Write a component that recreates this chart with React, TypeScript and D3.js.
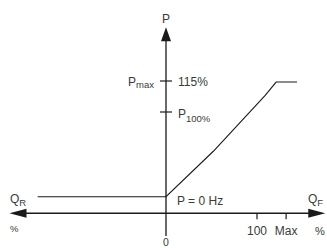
import * as d3 from 'd3'

const WIDTH = 327
const HEIGHT = 248

// characteristic curve: flow Q in %, pressure P in %
const curveQ = [-141, 0, 52, 109, 121, 144]
const curveP = [59, 59, 81, 108, 114.5, 114.5]

// axis extents (schematic, in the same % units)
const qAxisMin = -172
const qAxisMax = 175
const pAxisLevel = 51
const pAxisMin = 40
const pAxisMax = 140

const xTickValues = [100, 132]
const xTickLabels = ['100', 'Max']

const yTickValues = [115, 100]
const yTickMain = ['P', 'P']
const yTickSub = ['max', '100%']
const yTickRight = ['115%', '']

const LINE = '#1a1a1a'
const TEXT = '#3a3a3a'
const FONT = '"Liberation Sans", Arial, Helvetica, sans-serif'

export default function App() {
  const x = d3.scaleLinear().domain([0, 100]).range([166, 257])
  const y = d3.scaleLinear().domain([100, 115]).range([112, 81])

  const x0 = x(0)
  const yAxis = y(pAxisLevel)
  const xLeft = x(qAxisMin)
  const xRight = x(qAxisMax)
  const yTop = y(pAxisMax)

  const line = d3
    .line<number>()
    .x((_, i) => x(curveQ[i]))
    .y((_, i) => y(curveP[i]))

  const baseline = y(curveP[0])

  return (
    <>
      <style>{'body{margin:0}'}</style>
      <svg width={WIDTH} height={HEIGHT} style={{ display: 'block', background: '#fff' }} fontFamily={FONT}>
        {/* horizontal axis with arrows on both ends */}
        <line x1={xLeft + 10} x2={xRight - 10} y1={yAxis} y2={yAxis} stroke={LINE} strokeWidth={1.3} />
        <path d={`M${xLeft},${yAxis} L${xLeft + 17},${yAxis - 4.5} L${xLeft + 17},${yAxis + 4.5} Z`} fill={LINE} />
        <path d={`M${xRight},${yAxis} L${xRight - 17},${yAxis - 4.5} L${xRight - 17},${yAxis + 4.5} Z`} fill={LINE} />

        {/* vertical axis with arrow at top */}
        <line x1={x0} x2={x0} y1={yTop + 8} y2={y(pAxisMin)} stroke={LINE} strokeWidth={1.3} />
        <path d={`M${x0},${yTop - 2} L${x0 - 5},${yTop + 12} L${x0 + 5},${yTop + 12} Z`} fill={LINE} />

        {/* x ticks */}
        {xTickValues.map((v, i) => (
          <g key={v}>
            <line x1={x(v)} x2={x(v)} y1={yAxis} y2={yAxis + 6} stroke={LINE} strokeWidth={1.2} />
            <text x={x(v)} y={yAxis + 22} textAnchor="middle" fontSize={12} fill={TEXT}>
              {xTickLabels[i]}
            </text>
          </g>
        ))}

        {/* y ticks */}
        {yTickValues.map((v, i) => (
          <g key={v}>
            <line x1={x0 - 6} x2={x0 + 6} y1={y(v)} y2={y(v)} stroke={LINE} strokeWidth={1.2} />
            {i === 0 ? (
              <>
                <text x={x0 - 12} y={y(v) + 5} textAnchor="end" fontSize={12} fill={TEXT}>
                  P<tspan fontSize={9.5} dy={2}>{yTickSub[i]}</tspan>
                </text>
                <text x={x0 + 12} y={y(v) + 4.5} fontSize={12} fill={TEXT}>
                  {yTickRight[i]}
                </text>
              </>
            ) : (
              <text x={x0 + 12} y={y(v) + 6} fontSize={12} fill={TEXT}>
                {yTickMain[i]}
                <tspan fontSize={9.5} dy={4}>{yTickSub[i]}</tspan>
              </text>
            )}
          </g>
        ))}

        {/* curve */}
        <path d={line(curveQ) ?? ''} fill="none" stroke={LINE} strokeWidth={1.1} />

        {/* labels */}
        <text x={x0} y={23} textAnchor="middle" fontSize={12} fill={TEXT}>P</text>
        <text x={x0 + 11} y={baseline + 8} fontSize={12} fill={TEXT}>P = 0 Hz</text>
        <text x={10} y={baseline + 6} fontSize={12} fill={TEXT}>
          Q<tspan fontSize={9.5} dy={3}>R</tspan>
        </text>
        <text x={308} y={baseline + 6} fontSize={12} fill={TEXT}>
          Q<tspan fontSize={9.5} dy={3}>F</tspan>
        </text>
        <text x={10} y={yAxis + 19} fontSize={9.5} fill={TEXT}>%</text>
        <text x={315} y={yAxis + 22} fontSize={11} fill={TEXT}>%</text>
        <text x={x0} y={yAxis + 33} textAnchor="middle" fontSize={10.5} fill={TEXT}>0</text>
      </svg>
    </>
  )
}
